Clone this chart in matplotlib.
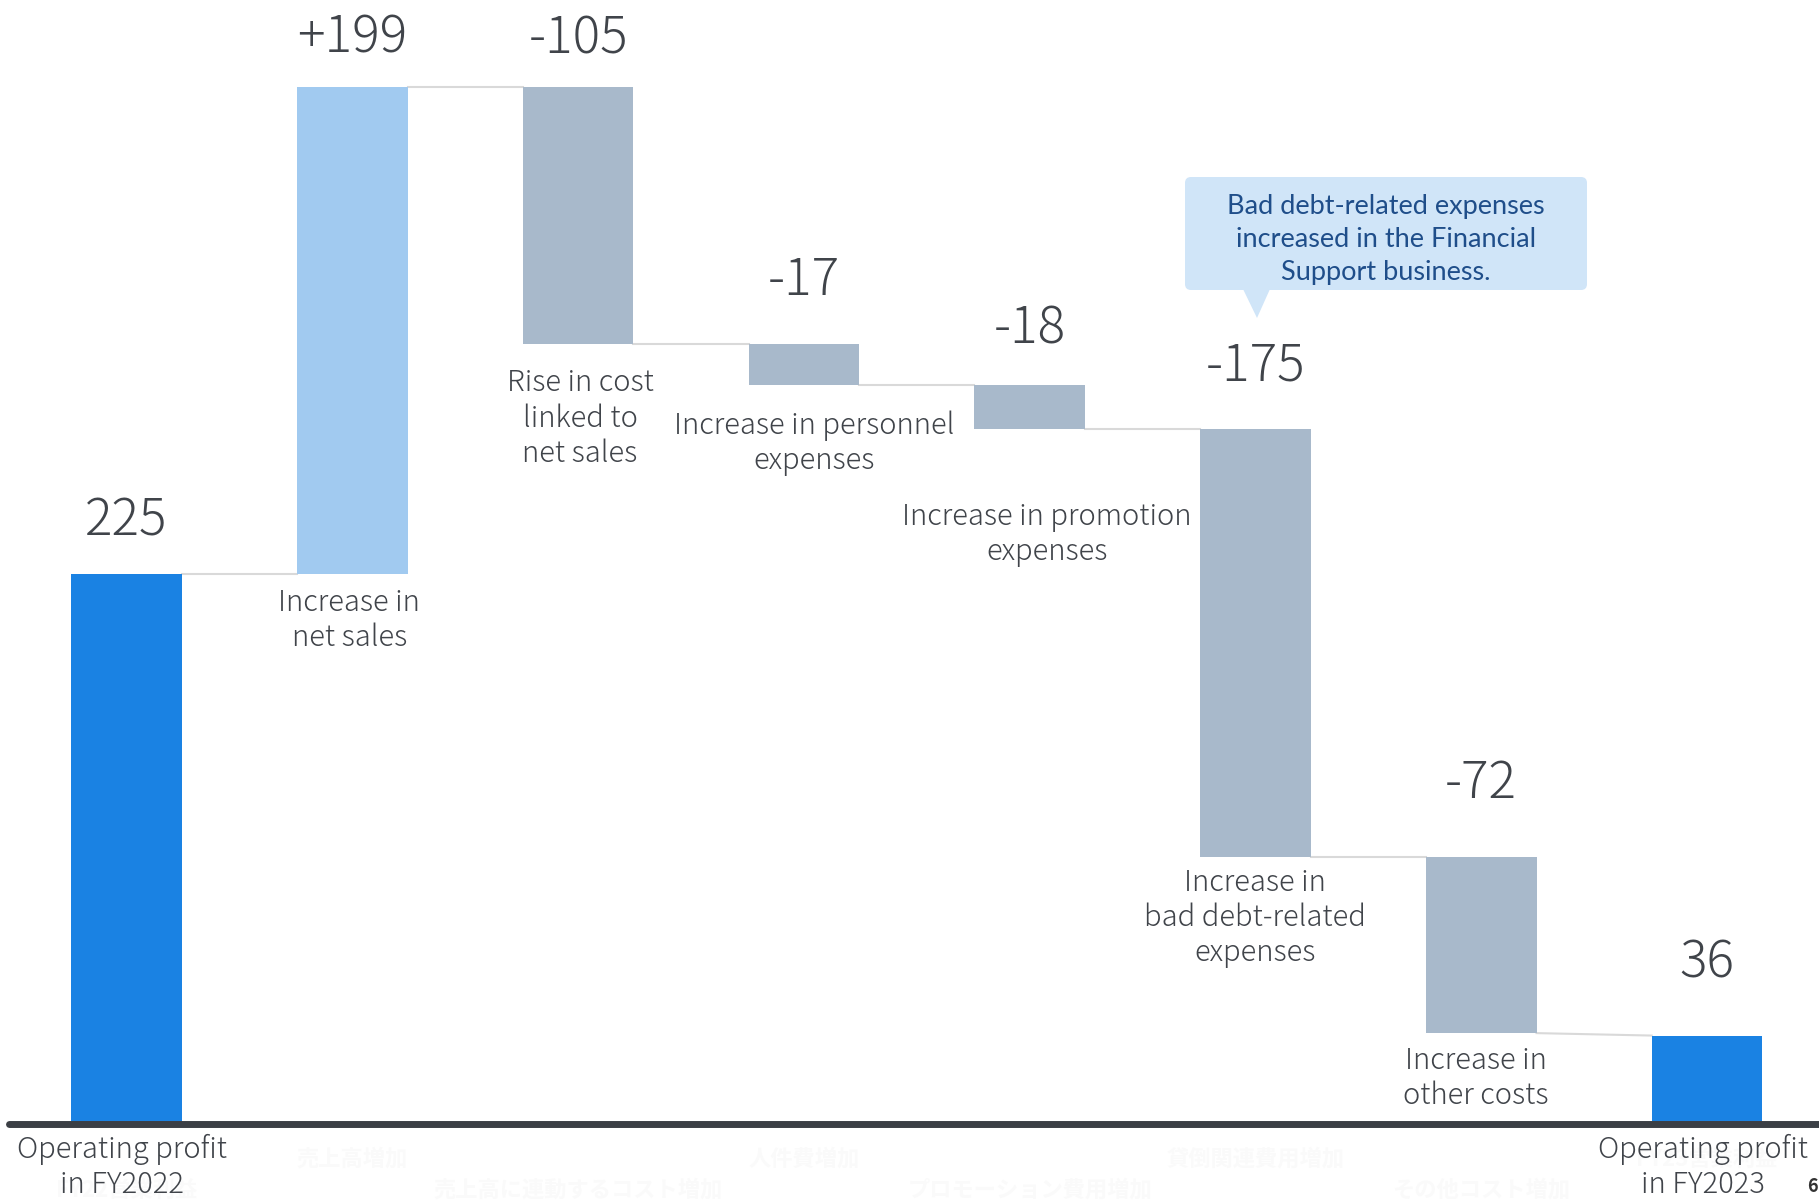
import matplotlib.pyplot as plt
import matplotlib.transforms as mtransforms
from matplotlib.patches import FancyBboxPatch, Polygon

plt.rcParams['font.family'] = ['Noto Sans CJK JP', 'DejaVu Sans']

# operating profit bridge, FY2022 -> FY2023
categories = [
    'Operating profit\nin FY2022',
    'Increase in\nnet sales',
    'Rise in cost\nlinked to\nnet sales',
    'Increase in personnel\nexpenses',
    'Increase in promotion\nexpenses',
    'Increase in\nbad debt-related\nexpenses',
    'Increase in\nother costs',
    'Operating profit\nin FY2023',
]
categories_jp = [
    'FY22営業利益', '売上高増加', '売上高に連動するコスト増加', '人件費増加',
    'プロモーション費用増加', '貸倒関連費用増加', 'その他コスト増加', 'FY23営業利益',
]
values = [225, 199, -105, -17, -18, -175, -72, 36]
kinds = ['total', 'delta', 'delta', 'delta', 'delta', 'delta', 'delta', 'total']
value_labels = ['225', '+199', '-105', '-17', '-18', '-175', '-72', '36']
note = 'Bad debt-related expenses\nincreased in the Financial\nSupport business.'

# text placement (px): gap above bar top, gap below bar bottom, sideways nudge
value_gap = [38, 35, 34, 49, 42, 49, 59, 58]
label_gap = [0, 14, 24, 25, 72, 10, 12, 0]
label_dx = [0, -3, 2, 10, 17, 0, -5, 0]

c_total = '#1a82e3'
c_up = '#a1caf0'
c_down = '#a8b9cb'
c_text = '#40444a'
weight = 'light'

fig = plt.figure(figsize=(18.19, 12.02), dpi=100)
ax = fig.add_axes([0, 0, 1, 1])
ax.set_xlim(-0.560, 7.496)
ax.set_ylim(-32.1, 459.7)
ax.axis('off')

width = 0.49
px = 72 / fig.dpi  # points per pixel

# running levels
starts, ends = [], []
level = 0
for v, k in zip(values, kinds):
    if k == 'total':
        starts.append(v)
        ends.append(v)
        level = v
    else:
        starts.append(level)
        level += v
        ends.append(level)

for i, (v, k) in enumerate(zip(values, kinds)):
    if k == 'total':
        bottom, height, color = 0, v, c_total
    else:
        bottom, height = min(starts[i], ends[i]), abs(v)
        color = c_up if v > 0 else c_down
    ax.bar(i, height, width, bottom=bottom, color=color, zorder=2)

    top = bottom + height
    ax.annotate(value_labels[i], (i, top), xytext=(0, value_gap[i] * px),
                textcoords='offset points', ha='center', va='baseline',
                fontsize=37, color=c_text, fontweight=weight)

    if k == 'delta':
        ax.annotate(categories[i], (i, bottom),
                    xytext=(label_dx[i] * px, -label_gap[i] * px),
                    textcoords='offset points', ha='center', va='top',
                    fontsize=21, color=c_text, linespacing=1.2,
                    fontweight=weight)

# connectors between bars
for i in range(len(values) - 1):
    x0 = i + width / 2
    x1 = i + 1 - width / 2
    y0 = ends[i] if kinds[i] == 'delta' else values[i]
    y1 = starts[i + 1]
    ax.plot([x0, x1], [y0, y1], color='#d9d9d9', lw=1.5, zorder=1)

# baseline
ax.plot([-0.52, 7.6], [0, 0], color='#3b3f45', lw=5, solid_capstyle='round',
        zorder=3)

# labels under the axis
trans = mtransforms.blended_transform_factory(ax.transData, fig.transFigure)
for i in range(len(categories)):
    row = 1 - (1190 if i % 2 == 0 else 1159) / 1202
    ax.text(i, row, categories_jp[i], transform=trans, ha='center',
            va='center', fontsize=16, fontweight='bold', color='#fafafa',
            zorder=0)
for i in (0, len(categories) - 1):
    ax.annotate(categories[i], (i, 0), xytext=(-4 * px, -10 * px),
                textcoords='offset points', ha='center', va='top',
                fontsize=21, color=c_text, linespacing=1.2, zorder=4,
                fontweight=weight)

# callout
ov = fig.add_axes([0, 0, 1, 1], facecolor='none')
ov.set_xlim(0, 1819)
ov.set_ylim(1202, 0)
ov.axis('off')
box = FancyBboxPatch((1185, 177), 402, 113,
                     boxstyle='round,pad=0,rounding_size=6',
                     fc='#d0e5f8', ec='none')
ov.add_patch(box)
ov.add_patch(Polygon([(1243, 289), (1270, 289), (1257, 318)],
                     closed=True, fc='#d0e5f8', ec='none'))
ov.text(1386, 239.5, note, ha='center', va='center', fontsize=19.5,
        family='Lato', color='#1f4e8a', linespacing=1.4)

# page number
ov.text(1812, 1186, '6', ha='center', va='center', fontsize=13,
        fontweight='bold', color='#333333')

fig.savefig('out.png', dpi=100)
